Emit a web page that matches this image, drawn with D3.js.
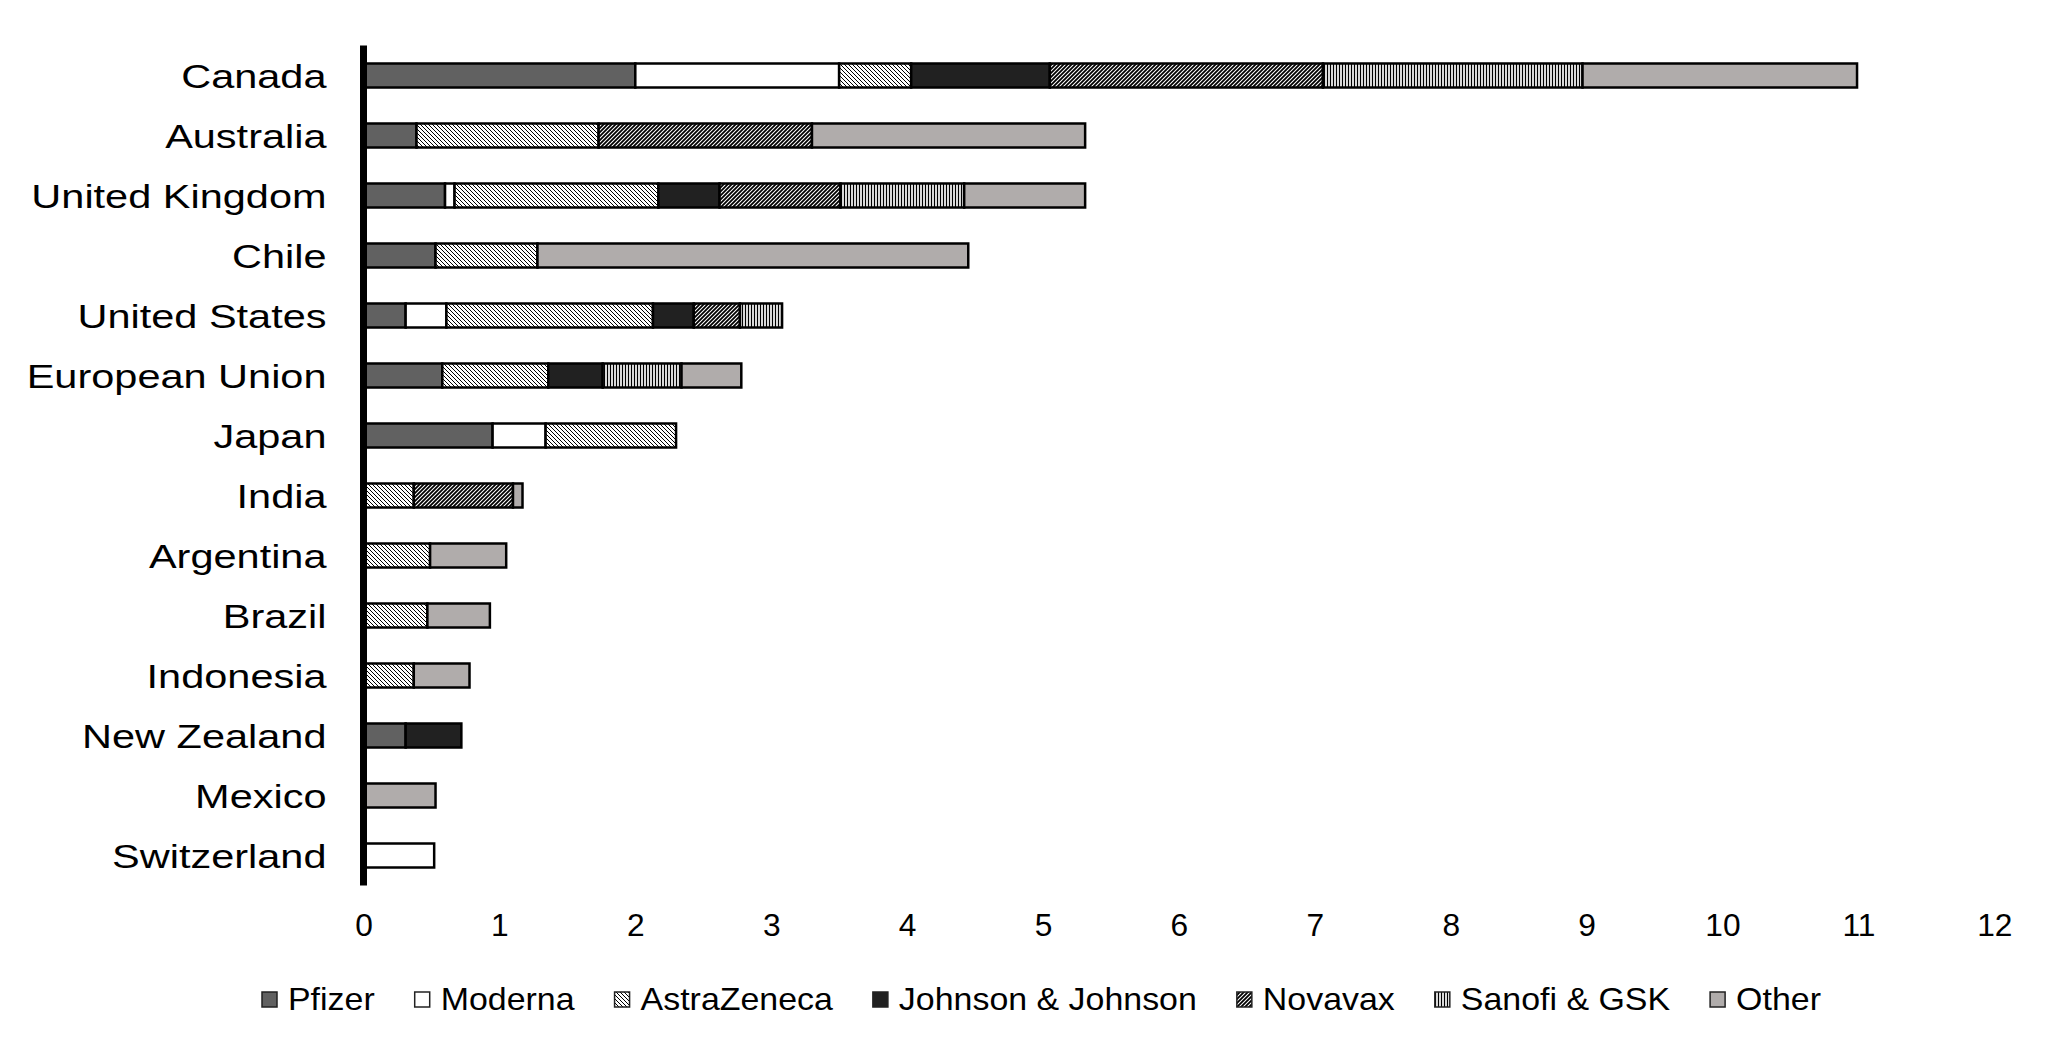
<!DOCTYPE html>
<html>
<head>
<meta charset="utf-8">
<script src="https://cdn.jsdelivr.net/npm/d3@7"></script>
<style>
  body { margin: 0; background: #fff; }
  svg { display: block; font-family: "Liberation Sans", Arial, sans-serif; }
</style>
</head>
<body>
<div id="chart"></div>
<script>
// doses secured per capita
var countries = ["Canada", "Australia", "United Kingdom", "Chile", "United States", "European Union",
    "Japan", "India", "Argentina", "Brazil", "Indonesia", "New Zealand", "Mexico", "Switzerland"];
var companies = ["Pfizer", "Moderna", "AstraZeneca", "Johnson & Johnson", "Novavax", "Sanofi & GSK", "Other"];

var pfizer   = [2.00, 0.39, 0.60, 0.53, 0.31, 0.58, 0.95, 0,    0,    0,    0,    0.31, 0,    0];
var moderna  = [1.50, 0,    0.07, 0,    0.30, 0,    0.39, 0,    0,    0,    0,    0,    0,    0.52];
var astra    = [0.53, 1.34, 1.50, 0.75, 1.52, 0.78, 0.96, 0.37, 0.49, 0.47, 0.37, 0,    0,    0];
var johnson  = [1.02, 0,    0.45, 0,    0.30, 0.40, 0,    0,    0,    0,    0,    0.41, 0,    0];
var novavax  = [2.01, 1.57, 0.89, 0,    0.34, 0,    0,    0.73, 0,    0,    0,    0,    0,    0];
var sanofi   = [1.91, 0,    0.91, 0,    0.31, 0.58, 0,    0,    0,    0,    0,    0,    0,    0];
var other    = [2.02, 2.01, 0.89, 3.17, 0,    0.44, 0,    0.07, 0.56, 0.46, 0.41, 0,    0.53, 0];

var xTicks = [0, 1, 2, 3, 4, 5, 6, 7, 8, 9, 10, 11, 12];

var seriesValues = [pfizer, moderna, astra, johnson, novavax, sanofi, other];
var fills = ["#616161", "#ffffff", "url(#pAstra)", "#212121", "url(#pNova)", "url(#pSanofi)", "#b0acab"];

// rows for d3.stack
var rows = countries.map(function(c, i) {
    var r = {country: c};
    companies.forEach(function(k, j) { r[k] = seriesValues[j][i]; });
    return r;
});

var W = 2058, H = 1057;
var svg = d3.select("#chart").append("svg").attr("width", W).attr("height", H);

// hatch patterns
var defs = svg.append("defs");
var pa = defs.append("pattern").attr("id", "pAstra").attr("patternUnits", "userSpaceOnUse")
    .attr("width", 4).attr("height", 4);
pa.append("rect").attr("width", 4).attr("height", 4).attr("fill", "#fff");
pa.append("path").attr("d", "M0,0L4,4M-1,3L1,5M3,-1L5,1").attr("stroke", "#000").attr("stroke-width", 1);

var pn = defs.append("pattern").attr("id", "pNova").attr("patternUnits", "userSpaceOnUse")
    .attr("width", 4).attr("height", 4);
pn.append("rect").attr("width", 4).attr("height", 4).attr("fill", "#fff");
pn.append("path").attr("d", "M0,4L4,0M-1,1L1,-1M3,5L5,3").attr("stroke", "#000").attr("stroke-width", 1.8);

var ps = defs.append("pattern").attr("id", "pSanofi").attr("patternUnits", "userSpaceOnUse")
    .attr("width", 3).attr("height", 3);
ps.append("rect").attr("width", 3).attr("height", 3).attr("fill", "#fff");
ps.append("path").attr("d", "M1.5,0V3").attr("stroke", "#000").attr("stroke-width", 1.3);

var x = d3.scaleLinear().domain([0, 12]).range([363.5, 1994.3]);
var y = d3.scaleBand().domain(countries).range([45.5, 885.5]).paddingInner(0.6).paddingOuter(0.3);

var stacked = d3.stack().keys(companies)(rows);

var layer = svg.append("g").selectAll("g")
    .data(stacked)
    .join("g")
    .attr("fill", function(d, i) { return fills[i]; });

layer.selectAll("rect")
    .data(function(d) { return d.filter(function(s) { return s[1] - s[0] > 0; }); })
    .join("rect")
    .attr("x", function(d) { return x(d[0]); })
    .attr("y", function(d) { return y(d.data.country); })
    .attr("width", function(d) { return x(d[1]) - x(d[0]); })
    .attr("height", y.bandwidth())
    .attr("stroke", "#000")
    .attr("stroke-width", 2.5)
    ;

// stretch text a little wider, like the original
function widen(sel, k) {
    sel.each(function() {
        var w = this.getComputedTextLength();
        d3.select(this).attr("textLength", w * k).attr("lengthAdjust", "spacingAndGlyphs");
    });
}

// x axis: labels only
var gx = svg.append("g")
    .attr("transform", "translate(0,885.5)")
    .call(d3.axisBottom(x).tickValues(xTicks).tickFormat(d3.format("d")).tickSize(0).tickPadding(28.5));
gx.select(".domain").remove();
gx.selectAll("text").attr("font-size", 30.5).attr("fill", "#000").attr("font-family", null);
widen(gx.selectAll("text"), 1.04);

// y axis: thick line, stretched labels
var gy = svg.append("g")
    .attr("transform", "translate(363.5,0)")
    .call(d3.axisLeft(y).tickSize(0).tickSizeOuter(0).tickPadding(37));
gy.select(".domain").attr("stroke", "#000").attr("stroke-width", 7).attr("d", "M0,45.5V885.5");
gy.selectAll("text")
    .attr("font-size", 34)
    .attr("fill", "#000")
    .attr("font-family", null)
    .attr("dy", "0.36em");
widen(gy.selectAll("text"), 1.22);

// legend
var lg = svg.append("g");
var lx = 262;
companies.forEach(function(name, i) {
    lg.append("rect")
        .attr("x", lx).attr("y", 992).attr("width", 15).attr("height", 15)
        .attr("fill", fills[i]).attr("stroke", "#222").attr("stroke-width", 1.5);
    var t = lg.append("text")
        .attr("x", lx + 26).attr("y", 1010)
        .attr("font-size", 32).attr("fill", "#000")
        .text(name);
    var w = t.node().getComputedTextLength() * 1.06;
    t.attr("textLength", w).attr("lengthAdjust", "spacingAndGlyphs");
    lx = lx + 26 + w + 40;
});
</script>
</body>
</html>
